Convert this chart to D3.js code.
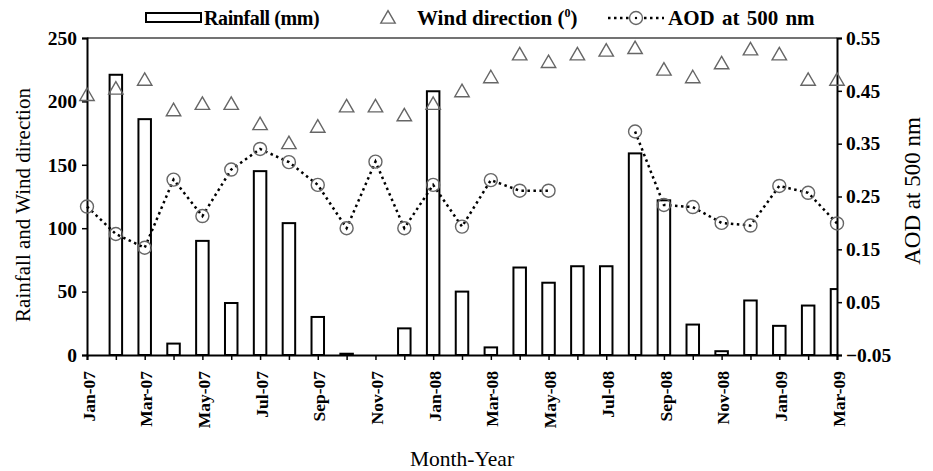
<!DOCTYPE html>
<html>
<head>
<meta charset="utf-8">
<script src="https://cdn.jsdelivr.net/npm/d3@7"></script>
<style>
  body { margin: 0; background: #fff; }
  text { font-family: "Liberation Serif", "Times New Roman", serif; fill: #000; }
</style>
</head>
<body>
<script>
// Data
const months = ["Jan-07", "Feb-07", "Mar-07", "Apr-07", "May-07", "Jun-07", "Jul-07", "Aug-07", "Sep-07",
                "Oct-07", "Nov-07", "Dec-07", "Jan-08", "Feb-08", "Mar-08", "Apr-08", "May-08", "Jun-08",
                "Jul-08", "Aug-08", "Sep-08", "Oct-08", "Nov-08", "Dec-08", "Jan-09", "Feb-09", "Mar-09"];
const rainfall = [0, 221, 186, 9, 90, 41, 145, 104, 30, 1, 0, 21, 208, 50, 6, 69, 57, 70, 70, 159, 122, 24, 3, 43, 23, 39, 52];
const windDir = [204, 209, 216, 192, 197, 197, 181, 166, 179, 195, 195, 188, 197, 207, 218, 236, 230, 236, 239, 241, 224, 218, 229, 240, 236, 216, 216];
const aod = [0.231, 0.179, 0.153, 0.282, 0.213, 0.301, 0.340, 0.315, 0.272, 0.190, 0.316, 0.190, 0.272, 0.193,
             0.281, 0.261, 0.261, null, null, 0.373, 0.234, 0.230, 0.200, 0.195, 0.270, 0.257, 0.199];
const leftTicks = [0, 50, 100, 150, 200, 250];
const rightTicks = [-0.05, 0.05, 0.15, 0.25, 0.35, 0.45, 0.55];

let width = 933,
    height = 471;

let margin = {
    top: 38,
    bottom: 116,
    left: 87,
    right: 96
}

let svg = d3.select('body')
            .append('svg')
            .attr('width', width)
            .attr('height', height);

// Scales
const xScale = d3.scalePoint()
                 .domain(months)
                 .range([margin.left, width - margin.right]);

const yLeft = d3.scaleLinear()
                .domain([0, 250])
                .range([height - margin.bottom, margin.top]);

const yRight = d3.scaleLinear()
                 .domain([-0.05, 0.55])
                 .range([height - margin.bottom, margin.top]);

// clip so the end bars are cut at the axes
svg.append('clipPath')
   .attr('id', 'plot')
   .append('rect')
   .attr('x', margin.left)
   .attr('y', margin.top)
   .attr('width', width - margin.left - margin.right)
   .attr('height', height - margin.top - margin.bottom);

// Rainfall bars
const barW = 12.5;
svg.append('g')
   .attr('clip-path', 'url(#plot)')
   .selectAll('rect')
   .data(rainfall)
   .enter()
   .append('rect')
   .attr('x', (d, i) => xScale(months[i]) - barW / 2)
   .attr('y', d => yLeft(d))
   .attr('width', barW)
   .attr('height', d => yLeft(0) - yLeft(d))
   .attr('fill', '#fff')
   .attr('stroke', '#000')
   .attr('stroke-width', 2);

// top frame line
svg.append('line')
   .attr('x1', margin.left)
   .attr('x2', width - margin.right)
   .attr('y1', margin.top)
   .attr('y2', margin.top)
   .attr('stroke', '#444')
   .attr('stroke-width', 1.5);

// Axes
let xAxis = svg.append('g')
               .attr('transform', `translate(0, ${height - margin.bottom})`)
               .call(d3.axisBottom(xScale).tickSize(5).tickFormat(''));

xAxis.selectAll('.tick')
     .filter((d, i) => i % 2 === 0)
     .append('text')
     .attr('transform', 'translate(1, 16) rotate(-90)')
     .attr('dy', '0.35em')
     .attr('text-anchor', 'end')
     .attr('fill', '#000')
     .style('font-size', '17.5px')
     .style('font-weight', 'bold')
     .text(d => d);

let yAxisL = svg.append('g')
                .attr('transform', `translate(${margin.left}, 0)`)
                .call(d3.axisLeft(yLeft).tickValues(leftTicks).tickSize(5).tickPadding(5));

let yAxisR = svg.append('g')
                .attr('transform', `translate(${width - margin.right}, 0)`)
                .call(d3.axisRight(yRight).tickValues(rightTicks).tickSize(5).tickPadding(4).tickFormat(d3.format('.2f')));

[xAxis, yAxisL, yAxisR].forEach(a => {
    a.select('.domain').attr('stroke', '#000').attr('stroke-width', 2);
    a.selectAll('.tick line').attr('stroke', '#000').attr('stroke-width', 1.5);
});
[yAxisL, yAxisR].forEach(a => {
    a.selectAll('.tick text')
     .style('font-family', '"Liberation Serif", serif')
     .style('font-size', '19.5px')
     .style('font-weight', 'bold')
     .attr('fill', '#000');
});

// Wind direction triangles
const tri = d3.symbol().type(d3.symbolTriangle).size(90);
svg.append('g')
   .selectAll('path')
   .data(windDir)
   .enter()
   .append('path')
   .attr('d', tri)
   .attr('transform', (d, i) => `translate(${xScale(months[i])}, ${yLeft(d)})`)
   .attr('fill', 'none')
   .attr('stroke', '#666')
   .attr('stroke-width', 1.4);

// AOD dotted line with circles
const line = d3.line()
               .defined(d => d !== null)
               .x((d, i) => xScale(months[i]))
               .y(d => yRight(d));

svg.append('path')
   .datum(aod)
   .attr('d', line)
   .attr('fill', 'none')
   .attr('stroke', '#000')
   .attr('stroke-width', 2.5)
   .attr('stroke-dasharray', '2.5,3.5');

svg.append('g')
   .selectAll('circle')
   .data(aod.map((d, i) => ({ m: months[i], v: d })).filter(d => d.v !== null))
   .enter()
   .append('circle')
   .attr('cx', d => xScale(d.m))
   .attr('cy', d => yRight(d.v))
   .attr('r', 6.5)
   .attr('fill', 'none')
   .attr('stroke', '#666')
   .attr('stroke-width', 1.4);

// Axis titles
svg.append('text')
   .attr('transform', 'translate(30, 205) rotate(-90)')
   .attr('text-anchor', 'middle')
   .style('font-size', '21px')
   .text('Rainfall and Wind direction');

svg.append('text')
   .attr('transform', 'translate(920, 191) rotate(-90)')
   .attr('text-anchor', 'middle')
   .style('font-size', '23px')
   .text('AOD at 500 nm');

svg.append('text')
   .attr('x', 462)
   .attr('y', 466)
   .attr('text-anchor', 'middle')
   .style('font-size', '21.5px')
   .text('Month-Year');

// Legend
let legend = svg.append('g').style('font-size', '20px').style('font-weight', 'bold');

legend.append('rect')
      .attr('x', 146).attr('y', 13).attr('width', 55).attr('height', 9)
      .attr('fill', '#fff').attr('stroke', '#000').attr('stroke-width', 2);
legend.append('text').attr('x', 204).attr('y', 25).attr('letter-spacing', '-0.4').text('Rainfall (mm)');

legend.append('path')
      .attr('d', tri)
      .attr('transform', 'translate(388, 19)')
      .attr('fill', 'none').attr('stroke', '#666').attr('stroke-width', 1.4);
let wt = legend.append('text').attr('x', 417).attr('y', 25).style('font-size', '21px');
wt.append('tspan').text('Wind direction (');
wt.append('tspan').attr('dy', -8).style('font-size', '12px').text('0');
wt.append('tspan').attr('dy', 8).text(')');

legend.append('line')
      .attr('x1', 608).attr('x2', 664).attr('y1', 18).attr('y2', 18)
      .attr('stroke', '#000').attr('stroke-width', 2.5).attr('stroke-dasharray', '2.5,3.5');
legend.append('circle')
      .attr('cx', 636).attr('cy', 18).attr('r', 6.5)
      .attr('fill', '#fff').attr('stroke', '#666').attr('stroke-width', 1.4);
legend.append('circle')
      .attr('cx', 636).attr('cy', 18).attr('r', 1.2).attr('fill', '#000');
legend.append('text').attr('x', 668).attr('y', 25).style('font-size', '21px').attr('word-spacing', '2').text('AOD at 500 nm');
</script>
</body>
</html>
